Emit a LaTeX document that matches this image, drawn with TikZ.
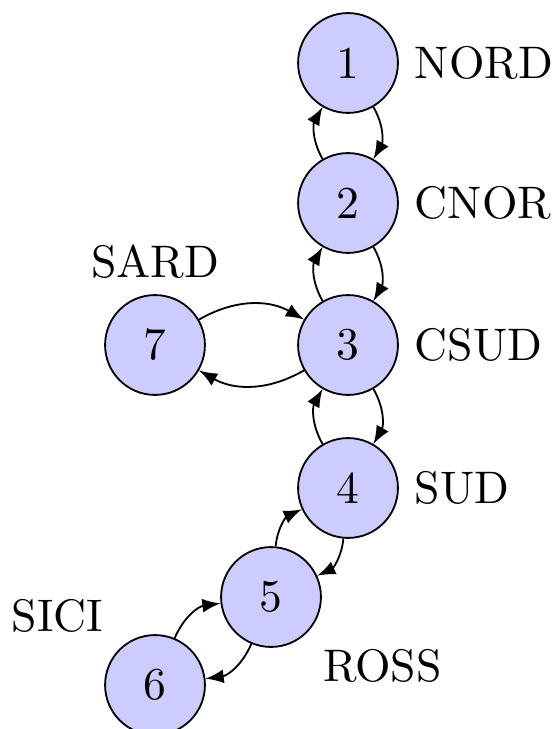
\documentclass[tikz,border=0pt]{standalone}
\usetikzlibrary{arrows}
\begin{document}
\begin{tikzpicture}[x=0.2193pt,y=-0.2193pt,>=latex,
  state/.style={circle,draw,fill=blue!20,minimum size=21.9pt,inner sep=0pt},
  link/.style={->,bend left}]
\useasboundingbox (0,0) rectangle (555,729);
\node[state,label=right:NORD] (n1) at (348,63) {1};
\node[state,label=right:CNOR] (n2) at (348,203) {2};
\node[state,label=right:CSUD] (n3) at (348,345) {3};
\node[state,label=right:SUD] (n4) at (348,488) {4};
\node[state,label=below right:ROSS] (n5) at (271,597) {5};
\node[state,label=above left:SICI] (n6) at (155,685) {6};
\node[state,label=above:SARD] (n7) at (155,345) {7};
\draw[link] (n1) to (n2);
\draw[link] (n2) to (n1);
\draw[link] (n2) to (n3);
\draw[link] (n3) to (n2);
\draw[link] (n3) to (n4);
\draw[link] (n4) to (n3);
\draw[link] (n4) to (n5);
\draw[link] (n5) to (n4);
\draw[link] (n5) to (n6);
\draw[link] (n6) to (n5);
\draw[link] (n7) to (n3);
\draw[link] (n3) to (n7);
\end{tikzpicture}
\end{document}
